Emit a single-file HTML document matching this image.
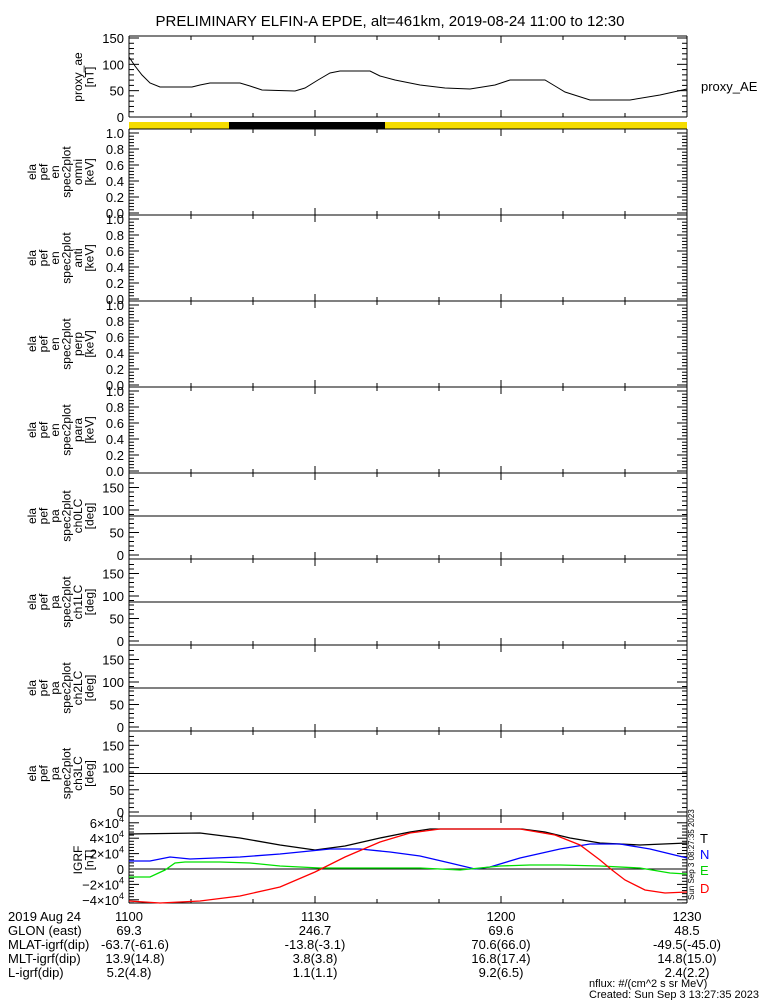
<!DOCTYPE html>
<html><head><meta charset="utf-8"><style>
body{margin:0;background:#fff}
svg{display:block;font-family:"Liberation Sans",sans-serif}
</style></head><body>
<svg id="s" width="775" height="1000" xmlns="http://www.w3.org/2000/svg">
<rect width="775" height="1000" fill="#fff"/>
<text x="390" y="26" font-size="15" text-anchor="middle">PRELIMINARY ELFIN-A EPDE, alt=461km, 2019-08-24 11:00 to 12:30</text>
<rect x="129" y="122" width="558" height="7" fill="#f5dc00"/>
<rect x="229" y="122" width="156" height="7" fill="#000"/>
<g id="g"></g>
<polyline fill="none" stroke="#000" stroke-width="1" points="129,57 135,66 142,75 150,83 160,87 192,87 200,85 210,83 240,83 250,86 262,90 295,91 305,88 318,80 330,73 340,71 370,71 380,76 395,80 420,85 445,88 470,89 495,85 510,80 545,80 555,86 565,92 590,100 630,100 660,95 687,89"/>
<text x="701" y="91" font-size="13">proxy_AE</text>
<line x1="129" y1="869" x2="687" y2="869" stroke="#000"/>
<polyline fill="none" stroke="#000" stroke-width="1.3" points="129,834 200,833 240,838 280,845 315,850 345,846 380,838 410,832 430,829 522,829 545,832 570,838 600,843 640,845 687,843"/>
<polyline fill="none" stroke="#0000ff" stroke-width="1.3" points="129,861 150,861 170,857 190,859 240,857 280,854 330,849 360,849 390,852 420,856 450,863 475,869 490,867 520,858 560,849 590,844 620,844 650,849 687,858"/>
<polyline fill="none" stroke="#00e000" stroke-width="1.3" points="129,877 150,877 165,870 175,863 185,862 220,862 250,863 280,866 320,868 380,868 420,868 460,870 500,866 530,865 560,865 600,866 640,868 670,873 687,874"/>
<polyline fill="none" stroke="#ff0000" stroke-width="1.3" points="129,901 160,903 200,901 240,896 280,887 315,872 345,857 380,842 410,833 440,829 520,829 555,835 580,845 600,860 612,870 625,880 645,890 665,893 687,892"/>
<text x="700" y="843" font-size="13">T</text>
<text x="700" y="859" font-size="13" fill="#0000ff">N</text>
<text x="700" y="875" font-size="13" fill="#00d000">E</text>
<text x="700" y="893" font-size="13" fill="#ff0000">D</text>
<text transform="translate(694,900) rotate(-90)" font-size="8">Sun Sep  3 08:27:35 2023</text>
<g font-size="13">
<text x="8" y="921">2019 Aug 24</text><text x="8" y="935">GLON (east)</text><text x="8" y="949">MLAT-igrf(dip)</text><text x="8" y="963">MLT-igrf(dip)</text><text x="8" y="977">L-igrf(dip)</text>
<g text-anchor="middle">
<text x="129" y="921">1100</text><text x="129" y="935">69.3</text><text x="135" y="949">-63.7(-61.6)</text><text x="135" y="963">13.9(14.8)</text><text x="129" y="977">5.2(4.8)</text>
<text x="315" y="921">1130</text><text x="315" y="935">246.7</text><text x="315" y="949">-13.8(-3.1)</text><text x="315" y="963">3.8(3.8)</text><text x="315" y="977">1.1(1.1)</text>
<text x="501" y="921">1200</text><text x="501" y="935">69.6</text><text x="501" y="949">70.6(66.0)</text><text x="501" y="963">16.8(17.4)</text><text x="501" y="977">9.2(6.5)</text>
<text x="687" y="921">1230</text><text x="687" y="935">48.5</text><text x="687" y="949">-49.5(-45.0)</text><text x="687" y="963">14.8(15.0)</text><text x="687" y="977">2.4(2.2)</text>
</g>
<text x="589" y="987" font-size="11">nflux: #/(cm^2 s sr MeV)</text>
<text x="589" y="998" font-size="11">Created: Sun Sep  3 13:27:35 2023</text>
</g>
</svg>
<script>
var g=document.getElementById('g'),h='';
function L(x1,y1,x2,y2){h+='<line x1="'+x1+'" y1="'+y1+'" x2="'+x2+'" y2="'+y2+'" stroke="#000" stroke-width="1"/>';}
function T(x,y,s,a){h+='<text x="'+x+'" y="'+y+'" font-size="13" text-anchor="'+(a||'end')+'">'+s+'</text>';}
function lab(cy,arr){var n=arr.length;for(var i=0;i<n;i++){var x=36+i*11.5+(6-n)*11.5;h+='<text transform="translate('+x+','+cy+') rotate(-90)" font-size="12" text-anchor="middle">'+arr[i]+'</text>';}}
function box(t,b){L(129,t,687,t);L(129,b,687,b);L(129,t,129,b);L(687,t,687,b);
 for(var m=0;m<=9;m++){var x=129+m*62;var l=(m%3==0)?7:4;L(x,t,x,t+l);L(x,b,x,b-l);}}
function yt(t,b,vmin,vmax,maj,nmin,fmt,vtop){var n=Math.floor((vtop-vmin)/maj+1e-9);var ppu=(b-t)/(vmax-vmin);
 for(var i=0;i<=n;i++){var v=vmin+i*maj,y=b-(v-vmin)*ppu;L(129,y,139,y);L(687,y,677,y);T(124,y+5,fmt(v));
  for(var k=1;k<nmin;k++){var yy=y-k*maj*ppu/nmin;if(yy>t){L(129,yy,134,yy);L(687,yy,682,yy);}}}}
box(36,117);
yt(38,117,0,150,50,5,function(v){return v},150);
lab(77,['proxy_ae','[nT]']);
var P=[129,215,301,387,473,559,645,731,816,903];
var en=['omni','anti','perp','para'];
for(var i=0;i<4;i++){var t=P[i],b=P[i+1];box(t,b);yt(t+4,b-2,0,1,0.2,5,function(v){return v.toFixed(1)},1);lab((t+b)/2,['ela','pef','en','spec2plot',en[i],'[keV]']);}
for(var i=4;i<8;i++){var t=P[i],b=P[i+1];box(t,b);L(129,(t+b)/2,687,(t+b)/2);yt(t+1,b-4,0,180,50,5,function(v){return v},180);lab((t+b)/2,['ela','pef','pa','spec2plot','ch'+(i-4)+'LC','[deg]']);}
box(816,903);
var gy=function(v){return 869-v*7.7};
[[6,'6×10<tspan font-size="9" dy="-6">4</tspan>'],[4,'4×10<tspan font-size="9" dy="-6">4</tspan>'],[2,'2×10<tspan font-size="9" dy="-6">4</tspan>'],[0,'0'],[-2,'−2×10<tspan font-size="9" dy="-6">4</tspan>'],[-4,'−4×10<tspan font-size="9" dy="-6">4</tspan>']].forEach(function(a){var y=gy(a[0]);L(129,y,139,y);L(687,y,677,y);T(124,y+5,a[1]);for(var k=1;k<5;k++){var yy=y+k*7.7*2/5;if(yy<903){L(129,yy,134,yy);L(687,yy,682,yy);}}});
lab(860,['IGRF','[nT]']);
g.innerHTML=h;
</script>
</body></html>
